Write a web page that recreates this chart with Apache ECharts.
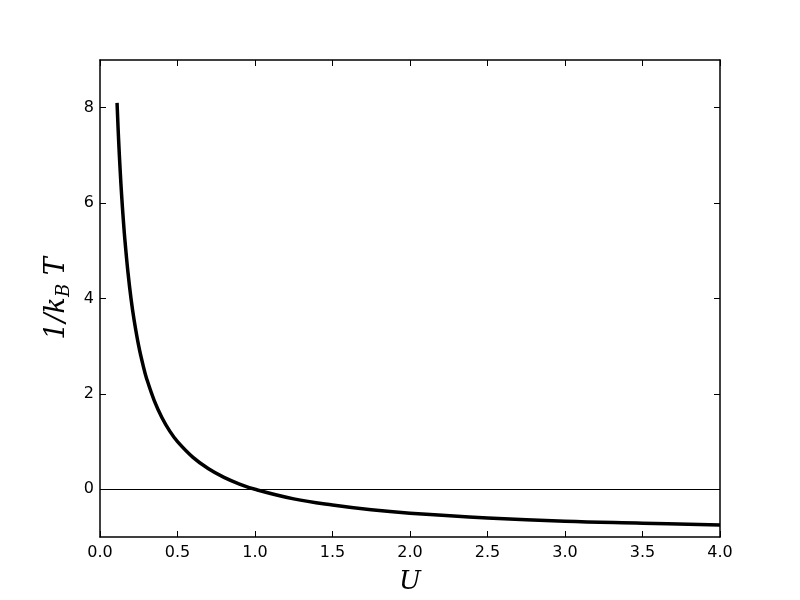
<!DOCTYPE html>
<html>
<head>
<meta charset="utf-8">
<script src="https://cdn.jsdelivr.net/npm/echarts@6/dist/echarts.min.js"></script>
<style>
  html, body { margin: 0; padding: 0; background: #fff; }
</style>
</head>
<body>
<div id="main" style="width:800px;height:600px"></div>
<script>
// values
const uValues = [0.11, 0.12, 0.13, 0.14, 0.15, 0.16, 0.18, 0.2, 0.22, 0.25, 0.28, 0.3, 0.35, 0.4, 0.45,
  0.5, 0.6, 0.7, 0.8, 0.9, 1.0, 1.25, 1.5, 1.75, 2.0, 2.5, 3.0, 3.5, 4.0];
const invT = [8.1, 7.33, 6.69, 6.14, 5.67, 5.25, 4.56, 4.0, 3.55, 3.0, 2.57, 2.33, 1.86, 1.5, 1.22,
  1.0, 0.67, 0.43, 0.25, 0.11, 0.0, -0.2, -0.33, -0.43, -0.5, -0.6, -0.67, -0.71, -0.75];
const yTicks = [0, 2, 4, 6, 8];

const myChart = echarts.init(document.getElementById('main'));

const tickFont = { fontFamily: 'DejaVu Sans', fontSize: 16, color: '#000' };
const frameLine = { show: true, onZero: false, lineStyle: { color: '#000', width: 1.5 } };
const tickStyle = { inside: true, length: 6, lineStyle: { color: '#000', width: 1 } };

myChart.setOption({
  animation: false,
  grid: { left: 100, right: 80, top: 60, bottom: 60 },
  xAxis: [{
    type: 'value',
    min: 0, max: 4, interval: 0.5,
    name: 'U',
    nameLocation: 'middle',
    nameGap: 32,
    nameTextStyle: { fontFamily: 'DejaVu Serif', fontStyle: 'italic', fontSize: 26, color: '#000' },
    axisLine: frameLine,
    axisTick: tickStyle,
    axisLabel: { ...tickFont, margin: 8, formatter: v => v.toFixed(1) },
    splitLine: { show: false }
  }, {
    type: 'value',
    position: 'top',
    min: 0, max: 4, interval: 0.5,
    axisLine: frameLine,
    axisTick: tickStyle,
    axisLabel: { show: false },
    splitLine: { show: false }
  }],
  yAxis: [{
    type: 'value',
    min: -1, max: 9,
    name: '{a|1/k}{b|B}{a| T}',
    nameLocation: 'middle',
    nameGap: 22,
    nameTextStyle: {
      rich: {
        a: { fontFamily: 'DejaVu Serif', fontStyle: 'italic', fontSize: 27, color: '#000' },
        b: { fontFamily: 'DejaVu Serif', fontStyle: 'italic', fontSize: 18, color: '#000', padding: [14, 0, 0, 0] }
      }
    },
    axisLine: frameLine,
    axisTick: { ...tickStyle, customValues: yTicks },
    axisLabel: { ...tickFont, margin: 6, customValues: yTicks },
    splitLine: { show: false }
  }, {
    type: 'value',
    position: 'right',
    min: -1, max: 9,
    axisLine: frameLine,
    axisTick: { ...tickStyle, customValues: yTicks },
    axisLabel: { show: false },
    splitLine: { show: false }
  }],
  series: [{
    type: 'line',
    xAxisIndex: 0,
    yAxisIndex: 0,
    data: uValues.map((u, i) => [u, invT[i]]),
    smooth: 0.4,
    showSymbol: false,
    lineStyle: { color: '#000', width: 3.5 },
    markLine: {
      silent: true,
      symbol: 'none',
      label: { show: false },
      lineStyle: { color: '#000', width: 1, type: 'solid' },
      data: [{ yAxis: 0 }]
    }
  }]
});
</script>
</body>
</html>
